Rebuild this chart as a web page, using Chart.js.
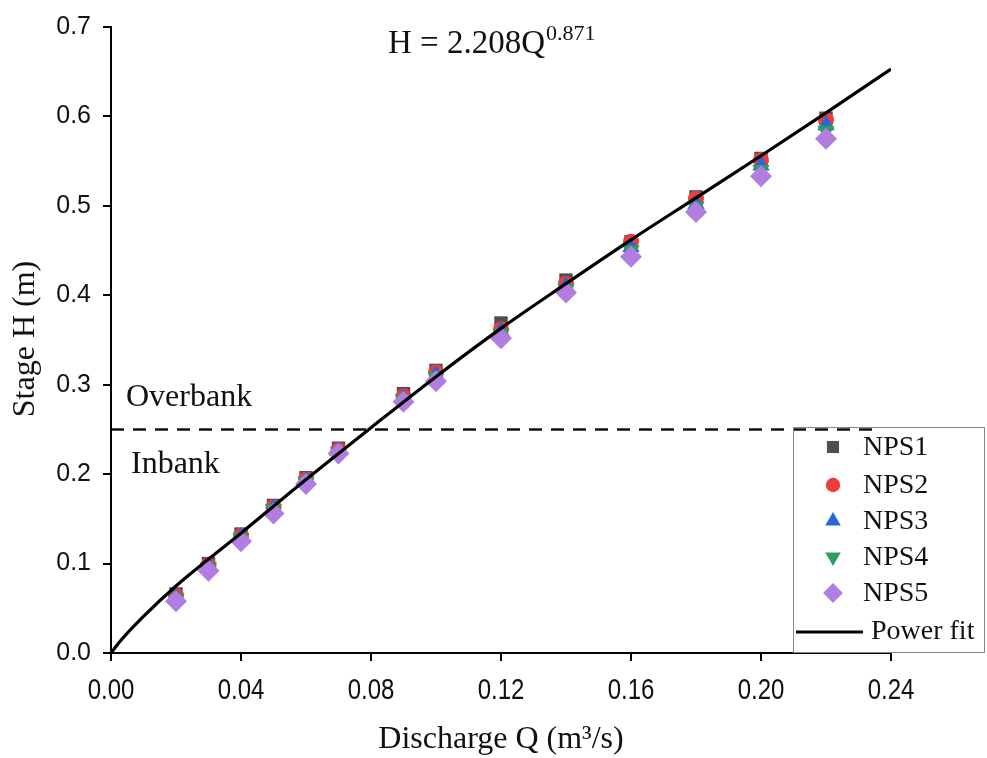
<!DOCTYPE html>
<html><head><meta charset="utf-8">
<script src="https://cdn.jsdelivr.net/npm/chart.js@4.4.0/dist/chart.umd.min.js"></script>
<style>html,body{margin:0;padding:0;background:#fff}#wrap{width:987px;height:758px}</style>
</head><body><div id="wrap"><canvas id="c" width="987" height="758"></canvas></div>
<script>
// ---- data ----
const discharge = [0.02,0.03,0.04,0.05,0.06,0.07,0.09,0.10,0.12,0.14,0.16,0.18,0.20,0.22];
const nps1 = [0.066,0.100,0.133,0.165,0.196,0.229,0.290,0.316,0.369,0.417,0.460,0.510,0.553,0.598];
const nps2 = [0.064,0.098,0.131,0.163,0.194,0.227,0.287,0.314,0.362,0.413,0.460,0.508,0.551,0.596];
const nps3 = [0.062,0.097,0.130,0.162,0.193,0.226,0.285,0.311,0.360,0.410,0.454,0.502,0.545,0.590];
const nps4 = [0.061,0.096,0.129,0.161,0.192,0.225,0.284,0.309,0.357,0.407,0.450,0.499,0.540,0.584];
const nps5 = [0.058,0.092,0.125,0.156,0.189,0.223,0.281,0.304,0.352,0.403,0.443,0.493,0.533,0.575];
const fitQ = [0,0.003,0.01,0.02,0.03,0.04,0.06,0.08,0.10,0.12,0.14,0.16,0.18,0.20,0.22,0.24];
const fitH = [0,0.014,0.041,0.075,0.105,0.134,0.194,0.252,0.309,0.363,0.413,0.462,0.509,0.556,0.604,0.653];
const bankQ = [0, 0.2366];
const bankH = [0.25, 0.25];
const xTicks = [0,0.04,0.08,0.12,0.16,0.20,0.24];
const yTicks = [0,0.1,0.2,0.3,0.4,0.5,0.6,0.7];
const seriesNames = ['NPS1','NPS2','NPS3','NPS4','NPS5'];
const fitName = 'Power fit';
const equationBase = 'H = 2.208Q';
const equationExp = '0.871';

const pts = (xs, ys) => xs.map((x,i)=>({x:x, y:ys[i]}));

const styles = [
  {color:'#4f4f4f', style:'rect', radius:9.5, rot:0},
  {color:'#ee3b3b', style:'circle', radius:8, rot:0},
  {color:'#2468dc', style:'triangle', radius:10, rot:0},
  {color:'#2e9e60', style:'triangle', radius:10, rot:180},
  {color:'#b17de0', style:'rectRot', radius:11, rot:0}
];
const seriesData = [nps1,nps2,nps3,nps4,nps5];

const datasets = seriesData.map((d,i)=>({
  label: seriesNames[i],
  data: pts(discharge, d),
  showLine:false,
  pointStyle: styles[i].style,
  pointRadius: styles[i].radius,
  pointRotation: styles[i].rot,
  pointBackgroundColor: styles[i].color,
  pointBorderColor: styles[i].color,
  pointBorderWidth: 0,
  order: 10 - i
}));
datasets.push({
  label: fitName,
  data: pts(fitQ, fitH),
  showLine:true, pointRadius:0, borderColor:'#000', borderWidth:3.2,
  cubicInterpolationMode:'monotone', order: 0
});
datasets.push({
  label: 'bank',
  data: pts(bankQ, bankH),
  showLine:true, pointRadius:0, borderColor:'#111', borderWidth:2.6,
  borderDash:[13,9], order: 1
});

function drawMarker(ctx, s, x, y){
  const r = s.radius;
  ctx.fillStyle = s.color;
  ctx.beginPath();
  if (s.style==='rect'){ const h=r*Math.SQRT1_2; ctx.rect(x-h,y-h,2*h,2*h); }
  else if (s.style==='circle'){ ctx.arc(x,y,r,0,Math.PI*2); }
  else if (s.style==='triangle'){
    const sgn = s.rot===180 ? -1 : 1;
    ctx.moveTo(x, y - sgn*r);
    ctx.lineTo(x + r*Math.cos(Math.PI/6), y + sgn*r*0.5);
    ctx.lineTo(x - r*Math.cos(Math.PI/6), y + sgn*r*0.5);
    ctx.closePath();
  } else if (s.style==='rectRot'){
    ctx.moveTo(x,y-r); ctx.lineTo(x+r,y); ctx.lineTo(x,y+r); ctx.lineTo(x-r,y); ctx.closePath();
  }
  ctx.fill();
}

const decor = {
  id:'decor',
  afterDraw(chart){
    const ctx = chart.ctx;
    ctx.save();
    ctx.fillStyle = '#111';
    // condensed x tick labels, positioned by the x scale
    const xs = chart.scales.x;
    ctx.font = '30px "Liberation Sans", Arial, sans-serif';
    ctx.textAlign = 'center'; ctx.textBaseline = 'alphabetic';
    xTicks.forEach(v => {
      const px = xs.getPixelForValue(v);
      ctx.save();
      ctx.translate(px, 699);
      ctx.scale(0.8, 1);
      ctx.fillText(v.toFixed(2), 0, 0);
      ctx.restore();
    });
    // axis titles
    ctx.font = '32px "Liberation Serif", "Times New Roman", serif';
    ctx.textAlign = 'center'; ctx.textBaseline = 'alphabetic';
    ctx.fillText('Discharge Q (m³/s)', 501, 748);
    ctx.save();
    ctx.translate(34, 339); ctx.rotate(-Math.PI/2);
    ctx.fillText('Stage H (m)', 0, 0);
    ctx.restore();
    // region labels
    ctx.textAlign = 'left';
    ctx.fillText('Overbank', 126, 406);
    ctx.fillText('Inbank', 131, 473);
    // equation
    ctx.font = '33px "Liberation Serif", "Times New Roman", serif';
    ctx.fillText(equationBase, 388, 53);
    const w = ctx.measureText(equationBase).width;
    ctx.font = '22px "Liberation Serif", "Times New Roman", serif';
    ctx.fillText(equationExp, 388 + w + 1, 40);
    // legend box
    const bx=793, by=427, bw=191, bh=225;
    ctx.strokeStyle = '#888'; ctx.lineWidth = 1;
    ctx.strokeRect(bx+0.5, by+0.5, bw, bh);
    ctx.font = '28px "Liberation Serif", "Times New Roman", serif';
    ctx.textBaseline = 'middle'; ctx.fillStyle='#111';
    const rows = [447, 485, 521, 557, 593];
    for (let i=0;i<5;i++){
      const s = Object.assign({}, styles[i], {radius: styles[i].radius*0.9});
      drawMarker(ctx, s, 833, rows[i]);
      ctx.fillStyle='#111';
      ctx.fillText(seriesNames[i], 863, rows[i]+1);
    }
    ctx.strokeStyle='#000'; ctx.lineWidth=3.2;
    ctx.beginPath(); ctx.moveTo(796, 632); ctx.lineTo(863, 632); ctx.stroke();
    ctx.fillText(fitName, 871, 632);
    ctx.restore();
  }
};

new Chart(document.getElementById('c'), {
  type:'scatter',
  data:{datasets},
  options:{
    responsive:false, animation:false, devicePixelRatio:1,
    layout:{padding:{top:25, right:96, left:0, bottom:0}},
    plugins:{legend:{display:false}, tooltip:{enabled:false}},
    scales:{
      x:{
        type:'linear', min:0, max:0.24,
        afterBuildTicks: s => { s.ticks = xTicks.map(v=>({value:v})); },
        afterFit: s => { s.height = 105; },
        ticks:{ display:false, autoSkip:false, maxRotation:0 },
        grid:{ drawOnChartArea:false, drawTicks:true, tickLength:8, color:'#000', lineWidth:2 },
        border:{ display:true, color:'#000', width:2 }
      },
      y:{
        type:'linear', min:0, max:0.7,
        afterBuildTicks: s => { s.ticks = yTicks.map(v=>({value:v})); },
        afterFit: s => { s.width = 111; },
        ticks:{ callback:v=>Number(v).toFixed(1), color:'#111', padding:12, autoSkip:false,
          font:{family:'"Liberation Sans", Arial, sans-serif', size:25} },
        grid:{ drawOnChartArea:false, drawTicks:true, tickLength:8, color:'#000', lineWidth:2 },
        border:{ display:true, color:'#000', width:2 }
      }
    }
  },
  plugins:[decor]
});
</script>
</body></html>
